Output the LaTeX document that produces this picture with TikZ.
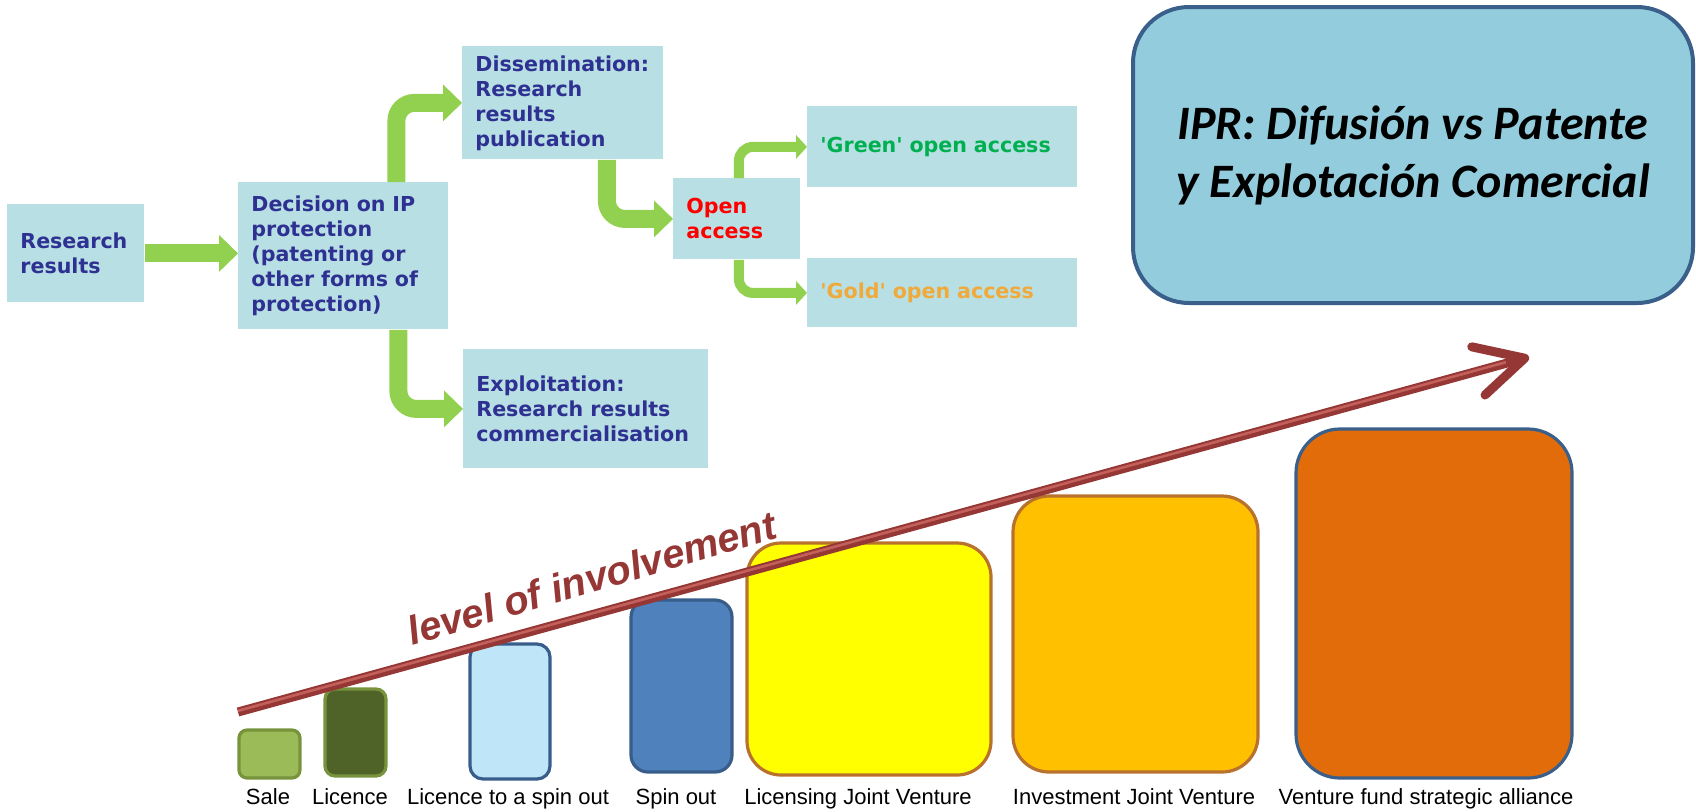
\documentclass[tikz,border=0pt]{standalone}
\usepackage{fontspec}
\setmainfont{Liberation Sans}
\newfontfamily\flowfont{DejaVu Sans}
\newfontfamily\titlefont{Carlito}
\usetikzlibrary{arrows.meta}

\definecolor{boxcyan}{RGB}{184,223,227}
\definecolor{flowblue}{RGB}{46,49,146}
\definecolor{flowgreen}{RGB}{146,208,80}
\definecolor{oagreen}{RGB}{0,176,80}
\definecolor{oagold}{RGB}{240,170,60}
\definecolor{titlefill}{RGB}{147,205,221}
\definecolor{titleline}{RGB}{58,95,139}
\definecolor{involvered}{RGB}{149,55,53}
\definecolor{involvehigh}{RGB}{196,96,92}
\definecolor{olive}{RGB}{119,147,60}
\definecolor{barblue}{RGB}{56,93,138}
\definecolor{barbrown}{RGB}{185,113,46}

\tikzset{
  flowbox/.style={fill=boxcyan, anchor=north west, inner xsep=6.5pt, inner ysep=0pt,
    align=left, text=flowblue, font=\flowfont\bfseries\fontsize{10.3}{12.5}\selectfont},
  flowarrow/.style={draw=flowgreen, line width=9pt, rounded corners=9pt,
    -{Triangle[length=9.5pt,width=18.5pt,line width=0pt]}},
  smallarrow/.style={draw=flowgreen, line width=5pt, rounded corners=7pt,
    -{Triangle[length=5.5pt,width=12pt,line width=0pt]}},
  bar/.style={line width=1.6pt},
  barlabel/.style={anchor=base, font=\fontsize{11}{13}\selectfont},
}

\begin{document}
\begin{tikzpicture}[x=0.5pt,y=-0.5pt]
\useasboundingbox (0,0) rectangle (1696,811);

% flow of the research results
\node[flowbox, text width=55.5pt, minimum height=49pt] (res) at (7,204) {Research\\results};
\node[flowbox, text width=92pt, minimum height=73.5pt] (dec) at (238,182)
  {Decision on IP\\protection\\(patenting or\\other forms of\\protection)};
\node[flowbox, text width=87.5pt, minimum height=56.5pt] (dis) at (462,46)
  {Dissemination:\\Research\\results\\publication};
\node[flowbox, text width=50.5pt, minimum height=40.5pt, text=red] (open) at (673,178) {Open\\access};
\node[flowbox, text width=122pt, minimum height=40.5pt, text=oagreen] (green) at (807,106) {'Green' open access};
\node[flowbox, text width=122pt, minimum height=34.5pt, text=oagold] (gold) at (807,258) {'Gold' open access};
\node[flowbox, text width=109.5pt, minimum height=59.5pt] (expl) at (463,349)
  {Exploitation:\\Research results\\commercialisation};

\draw[flowarrow] (res.east) -- (res.east -| dec.west);
\draw[flowarrow] ([xshift=26.5pt]dec.north) |- (dis.west);
\draw[flowarrow] ([xshift=27.5pt]dec.south) |- (expl.west);
\draw[flowarrow] ([xshift=22pt]dis.south) |- (open.west);
\draw[smallarrow] ([xshift=1pt]open.north) |- (green.west);
\draw[smallarrow] ([xshift=1pt]open.south) |- (gold.west);

% title
\node[fill=titlefill, draw=titleline, line width=2pt, rounded corners=28pt,
  minimum width=280pt, minimum height=148pt, align=center,
  font=\titlefont\bfseries\itshape\fontsize{24}{29}\selectfont] (ipr) at (1413,155)
  {IPR: Difusión vs Patente\\y Explotación Comercial};

% bars
\draw[bar, fill={rgb,255:red,155;green,187;blue,89}, draw=olive, rounded corners=4pt] (239,730) rectangle (300,778);
\draw[bar, fill={rgb,255:red,79;green,98;blue,40}, draw=olive, rounded corners=5pt] (325,689) rectangle (386,776);
\draw[bar, fill={rgb,255:red,190;green,230;blue,248}, draw=barblue, rounded corners=6.5pt] (470,644) rectangle (550,779);
\draw[bar, fill={rgb,255:red,79;green,129;blue,189}, draw=barblue, rounded corners=8.5pt] (631,600) rectangle (732,772);
\draw[bar, fill={rgb,255:red,255;green,255;blue,0}, draw=barbrown, rounded corners=17pt] (747,543) rectangle (991,775);
\draw[bar, fill={rgb,255:red,255;green,192;blue,0}, draw=barbrown, rounded corners=18pt] (1013,496) rectangle (1258,772);
\draw[bar, fill={rgb,255:red,227;green,108;blue,10}, draw=titleline, rounded corners=22pt] (1296,429) rectangle (1572,778);

\node[barlabel] (lsale) at (268,804) {Sale};
\node[barlabel] (llic) at (350,804) {Licence};
\node[barlabel] (lspinlic) at (508,804) {Licence to a spin out};
\node[barlabel] (lspin) at (676,804) {Spin out};
\node[barlabel] (llicjv) at (858,804) {Licensing Joint Venture};
\node[barlabel] (linvjv) at (1134,804) {Investment Joint Venture};
\node[barlabel] (lfund) at (1426,804) {Venture fund strategic alliance};

% level of involvement
\coordinate (invstart) at (238,712);
\coordinate (invtip) at (1529,357);
\draw[involvered, line width=4.5pt, -{Straight Barb[length=24pt,width=25pt,round]}] (invstart) -- (invtip);
\draw[involvehigh, line width=1.3pt, shorten >=12pt] ([yshift=0.6pt]invstart) -- ([yshift=0.6pt]invtip);
\node[anchor=base west, rotate=16.5, text=involvered, inner sep=0pt,
  font=\bfseries\itshape\fontsize{20}{24}\selectfont] (invtext) at (412,646) {level of involvement};
\end{tikzpicture}
\end{document}
